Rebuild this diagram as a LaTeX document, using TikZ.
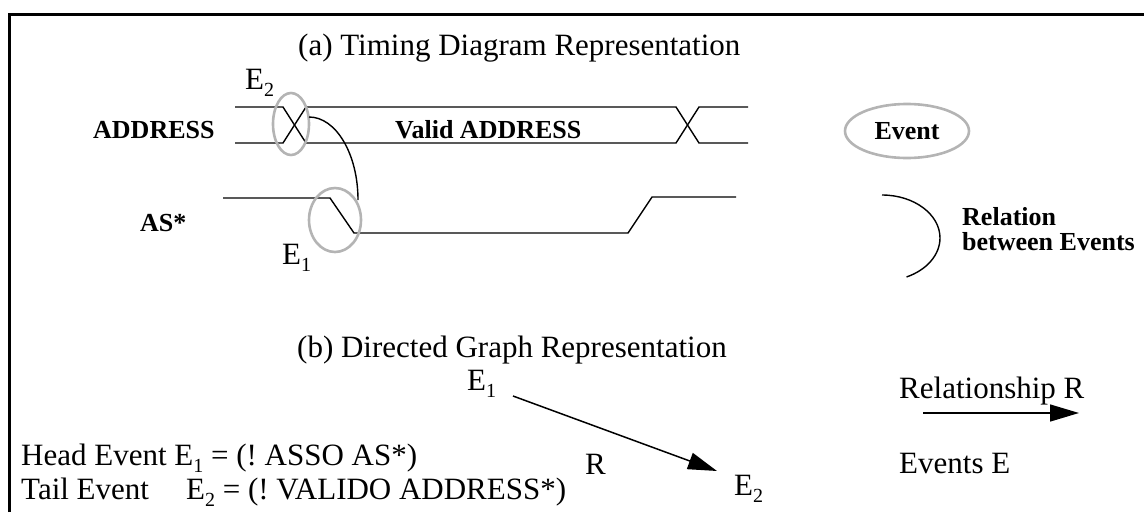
\documentclass[tikz,border=0pt]{standalone}
\usepackage{fontspec}
\setmainfont{Liberation Serif}
\usetikzlibrary{arrows.meta,shapes.geometric}
\definecolor{evgray}{HTML}{B4B4B4}
% lowered subscript for event names
\newcommand\lowsub[1]{\raisebox{-7pt}{\fontsize{20}{20}\selectfont #1}}
\frenchspacing

\begin{document}
\begin{tikzpicture}[x=1pt,y=-1pt,
  txt/.style={anchor=base west,inner sep=0pt,font=\fontsize{31}{36}\selectfont},
  lbl/.style={anchor=base west,inner sep=0pt,font=\bfseries\fontsize{26}{30}\selectfont},
  wave/.style={line width=1.4pt,line join=miter},
  evt/.style={draw=evgray,line width=2.6pt,ellipse,inner sep=0pt},
  rel/.style={line width=1.4pt},
  dirarrow/.style={line width=1.5pt,-{Triangle[length=29pt,width=17pt]}}]

\useasboundingbox (0,0) rectangle (1144,512);

% frame (open at the right and at the bottom)
\draw[line width=3pt] (9.7,512) -- (9.7,14) -- (1144,14);

% ---------------- (a) timing diagram ----------------
\node[txt] (titleA) at (298,55) {(a) Timing Diagram Representation};

\node[lbl] (addr) at (93,138) {ADDRESS};
\node[lbl] (as) at (140,231) {AS*};
\node[lbl] (valid) at (395,138) {Valid ADDRESS};

% ADDRESS bus
\draw[wave] (235,107) -- (283,107) -- (306,143) -- (676,143) -- (699,107) -- (748,107);
\draw[wave] (235,143) -- (283,143) -- (306,107) -- (676,107) -- (699,143) -- (748,143);

% AS* strobe
\draw[wave] (223,198) -- (330,198) -- (354,233) -- (628,233) -- (652,197) -- (736,197);

% events on the waveforms
\node[evt,minimum width=36pt,minimum height=62pt] (evE2) at (291,124) {};
\node[evt,minimum width=52pt,minimum height=64pt] (evE1) at (335,220) {};
\node[txt] (lE2) at (245,89) {E\lowsub{2}};
\node[txt] (lE1) at (282,264) {E\lowsub{1}};

% relation from E2 to E1
\coordinate (r0) at (309,117);
\coordinate (r1) at (358,200);
\draw[rel] (r0) .. controls (336,117) and (358,154) .. (r1);

% legend
\node[evt,minimum width=124pt,minimum height=54pt,
      font=\bfseries\fontsize{26}{30}\selectfont] (legEv) at (907,131) {Event};
\coordinate (lg0) at (882,195);
\coordinate (lg1) at (940,238);
\coordinate (lg2) at (906.5,277);
\draw[rel] (lg0) .. controls (914,195) and (940,214.3) .. (lg1)
               .. controls (940,254.7) and (926.9,269.9) .. (lg2);
\node[lbl] (legRel1) at (962,225) {Relation};
\node[lbl] (legRel2) at (962,250) {between Events};

% ---------------- (b) directed graph ----------------
\node[txt] (titleB) at (297,357) {(b) Directed Graph Representation};

\node[txt] (gE1) at (467,390) {E\lowsub{1}};
\node[txt] (gE2) at (734,495) {E\lowsub{2}};
\coordinate (a0) at (513,396);
\coordinate (a1) at (717,471);
\draw[dirarrow] (a0) -- (a1);
\node[txt] (gR) at (585,474) {R};

\node[txt] (legR) at (899,398) {Relationship R};
\coordinate (la0) at (923,413);
\coordinate (la1) at (1079,413);
\draw[dirarrow] (la0) -- (la1);
\node[txt] (legE) at (899,473) {Events E};

\node[txt] (head) at (21,465)
  {Head Event E\lowsub{1} = (! ASSO AS*)};
\node[txt] (tail) at (21,499)
  {Tail Event\hspace{1.2em}E\lowsub{2} = (! VALIDO ADDRESS*)};
\end{tikzpicture}
\end{document}
